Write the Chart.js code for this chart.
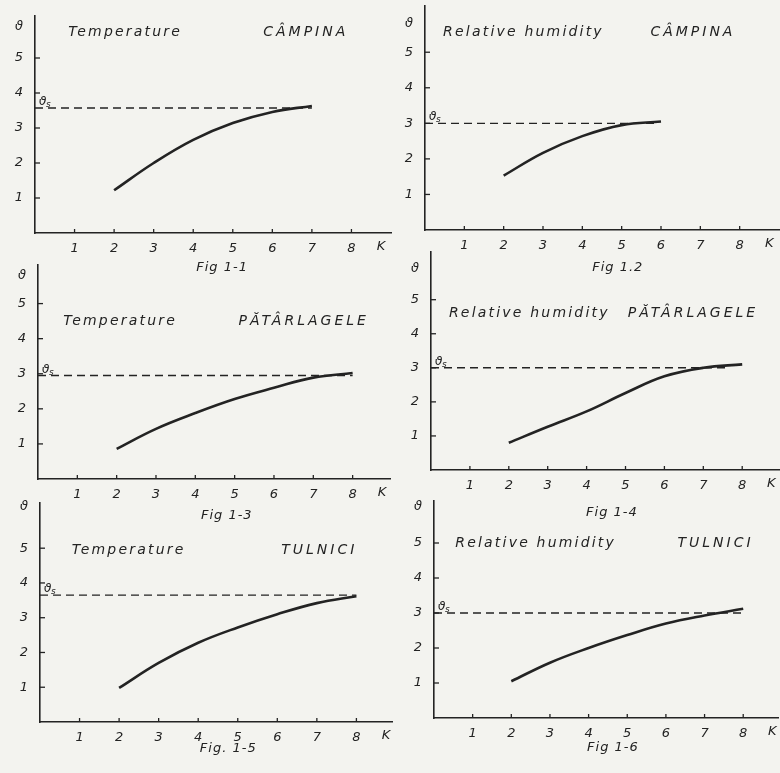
<!DOCTYPE html>
<html><head><meta charset="utf-8">
<script src="https://cdn.jsdelivr.net/npm/chart.js@4/dist/chart.umd.min.js"></script>
<style>
html,body{margin:0;padding:0;background:#f3f3ef;width:780px;height:773px;overflow:hidden;}
canvas{position:absolute;}
</style></head><body>
<script>
// ---- data ----
const kValues = [2, 3, 4, 5, 6, 7, 8];
const xTickValues = [1, 2, 3, 4, 5, 6, 7, 8];
const yTickValues = [1, 2, 3, 4, 5];
const tempCampina     = [1.22, 2.00, 2.66, 3.14, 3.46, 3.63];
const humCampina      = [1.53, 2.17, 2.64, 2.95, 3.05];
const tempPatarlagele = [0.86, 1.43, 1.88, 2.28, 2.60, 2.89, 3.02];
const humPatarlagele  = [0.80, 1.27, 1.72, 2.26, 2.75, 3.00, 3.10];
const tempTulnici     = [0.98, 1.70, 2.28, 2.72, 3.10, 3.42, 3.62];
const humTulnici      = [1.05, 1.58, 2.00, 2.37, 2.70, 2.93, 3.12];
const thetaS   = [3.57, 3.00, 2.95, 3.00, 3.65, 3.00];
const dashEnd  = [7.0, 5.9, 8.0, 7.6, 8.0, 8.0];
const variables = ['Temperature', 'Relative humidity', 'Temperature', 'Relative humidity', 'Temperature', 'Relative humidity'];
const places    = ['CÂMPINA', 'CÂMPINA', 'PĂTÂRLAGELE', 'PĂTÂRLAGELE', 'TULNICI', 'TULNICI'];
const captions  = ['Fig 1-1', 'Fig 1.2', 'Fig 1-3', 'Fig 1-4', 'Fig. 1-5', 'Fig 1-6'];
const series    = [tempCampina, humCampina, tempPatarlagele, humPatarlagele, tempTulnici, humTulnici];

// ---- layout (pixel geometry of each panel) ----
const panels = [
  {ox:35,  oy:233, ux:39.5, uy:35,   xMax:9.0,  yMax:6.2, thY:5.9, varX:0.84, varY:5.74, placeX:5.77, placeY:5.74, capX:4.73, capDy:35},
  {ox:425, oy:230, ux:39.3, uy:35.6, xMax:9.0,  yMax:6.3, thY:5.8, varX:0.46, varY:5.56, placeX:5.73, placeY:5.56, capX:4.90, capDy:38},
  {ox:38,  oy:478, ux:39.3, uy:35,   xMax:8.95, yMax:6.1, thY:5.8, varX:0.64, varY:4.50, placeX:5.10, placeY:4.50, capX:4.80, capDy:37},
  {ox:431, oy:470, ux:38.9, uy:34,   xMax:9.1,  yMax:6.4, thY:5.9, varX:0.46, varY:4.60, placeX:5.06, placeY:4.60, capX:4.65, capDy:43},
  {ox:40,  oy:722, ux:39.5, uy:34.8, xMax:8.9,  yMax:6.3, thY:6.2, varX:0.80, varY:4.95, placeX:6.10, placeY:4.95, capX:4.76, capDy:27},
  {ox:434, oy:718, ux:38.7, uy:35,   xMax:8.9,  yMax:6.2, thY:6.05, varX:0.55, varY:5.00, placeX:6.30, placeY:5.00, capX:4.63, capDy:30}
];
const LEFT = 34, PADTOP = 24, BOTTOM = 52, RIGHT = 2;
const INK = '#232323';
const FONT = '"DejaVu Sans", sans-serif';

const decor = {
  id: 'decor',
  afterDatasetsDraw(chart, args, opts) {
    const {ctx, chartArea} = chart;
    const xs = chart.scales.x, ys = chart.scales.y;
    const i = opts.index, p = panels[i];
    ctx.save();
    ctx.strokeStyle = INK; ctx.fillStyle = INK; ctx.lineWidth = 1.3;
    // inward tick marks
    xTickValues.forEach(v => {
      const px = xs.getPixelForValue(v);
      ctx.beginPath(); ctx.moveTo(px, chartArea.bottom); ctx.lineTo(px, chartArea.bottom - 4); ctx.stroke();
    });
    yTickValues.forEach(v => {
      const py = ys.getPixelForValue(v);
      ctx.beginPath(); ctx.moveTo(chartArea.left, py); ctx.lineTo(chartArea.left + 5, py); ctx.stroke();
    });
    // axis symbols
    ctx.font = 'italic 13px ' + FONT;
    ctx.textAlign = 'center'; ctx.textBaseline = 'middle';
    ctx.fillText('K', xs.getPixelForValue(8.75), chartArea.bottom + 14);
    ctx.textAlign = 'right';
    ctx.fillText('ϑ', chartArea.left - 12, ys.getPixelForValue(p.thY));
    // theta_s label
    const sy = ys.getPixelForValue(thetaS[i]);
    ctx.textAlign = 'left'; ctx.textBaseline = 'alphabetic';
    ctx.font = 'italic 12px ' + FONT;
    ctx.fillText('ϑ', chartArea.left + 4, sy - 3);
    ctx.font = 'italic 9px ' + FONT;
    ctx.fillText('s', chartArea.left + 11, sy - 1);
    // panel titles
    ctx.textBaseline = 'middle';
    ctx.font = 'italic 14px ' + FONT;
    ctx.letterSpacing = '2.2px';
    ctx.fillText(variables[i], xs.getPixelForValue(p.varX), ys.getPixelForValue(p.varY));
    ctx.font = 'italic 14px ' + FONT;
    ctx.letterSpacing = '3px';
    ctx.fillText(places[i], xs.getPixelForValue(p.placeX), ys.getPixelForValue(p.placeY));
    // caption
    ctx.letterSpacing = '1px';
    ctx.font = 'italic 13px ' + FONT;
    ctx.textAlign = 'center';
    ctx.fillText(captions[i], xs.getPixelForValue(p.capX), chartArea.bottom + p.capDy);
    ctx.restore();
  }
};

panels.forEach((p, i) => {
  const w = Math.round(LEFT + p.xMax * p.ux + RIGHT);
  const h = Math.round(PADTOP + p.yMax * p.uy + BOTTOM);
  const cv = document.createElement('canvas');
  cv.width = w; cv.height = h;
  cv.style.left = (p.ox - LEFT) + 'px';
  cv.style.top = Math.round(p.oy - p.yMax * p.uy - PADTOP) + 'px';
  cv.style.width = w + 'px'; cv.style.height = h + 'px';
  document.body.appendChild(cv);
  const vals = series[i];
  const curve = vals.map((v, j) => ({x: kValues[j], y: v}));
  const dash = [{x: 0, y: thetaS[i]}, {x: dashEnd[i], y: thetaS[i]}];
  new Chart(cv, {
    type: 'line',
    data: {
      datasets: [
        {data: dash, borderColor: INK, borderWidth: 1.4, borderDash: [8, 5], pointRadius: 0, tension: 0},
        {data: curve, borderColor: INK, borderWidth: 2.6, pointRadius: 0, tension: 0.4}
      ]
    },
    options: {
      responsive: false, animation: false, devicePixelRatio: 1,
      layout: {padding: {top: PADTOP, left: 0, right: RIGHT, bottom: 0}},
      plugins: {legend: {display: false}, tooltip: {enabled: false}, decor: {index: i}},
      scales: {
        x: {
          type: 'linear', min: 0, max: p.xMax,
          afterBuildTicks: s => { s.ticks = xTickValues.map(v => ({value: v})); },
          afterFit: s => { s.height = BOTTOM; },
          grid: {display: false, drawTicks: false},
          border: {display: true, color: INK, width: 1.6},
          ticks: {color: INK, padding: 8, font: {family: FONT, size: 13, style: 'italic'}, maxRotation: 0, autoSkip: false}
        },
        y: {
          type: 'linear', min: 0, max: p.yMax,
          afterBuildTicks: s => { s.ticks = yTickValues.map(v => ({value: v})); },
          afterFit: s => { s.width = LEFT; },
          grid: {display: false, drawTicks: false},
          border: {display: true, color: INK, width: 1.6},
          ticks: {color: INK, padding: 12, font: {family: FONT, size: 13, style: 'italic'}}
        }
      }
    },
    plugins: [decor]
  });
});
</script>
</body></html>
